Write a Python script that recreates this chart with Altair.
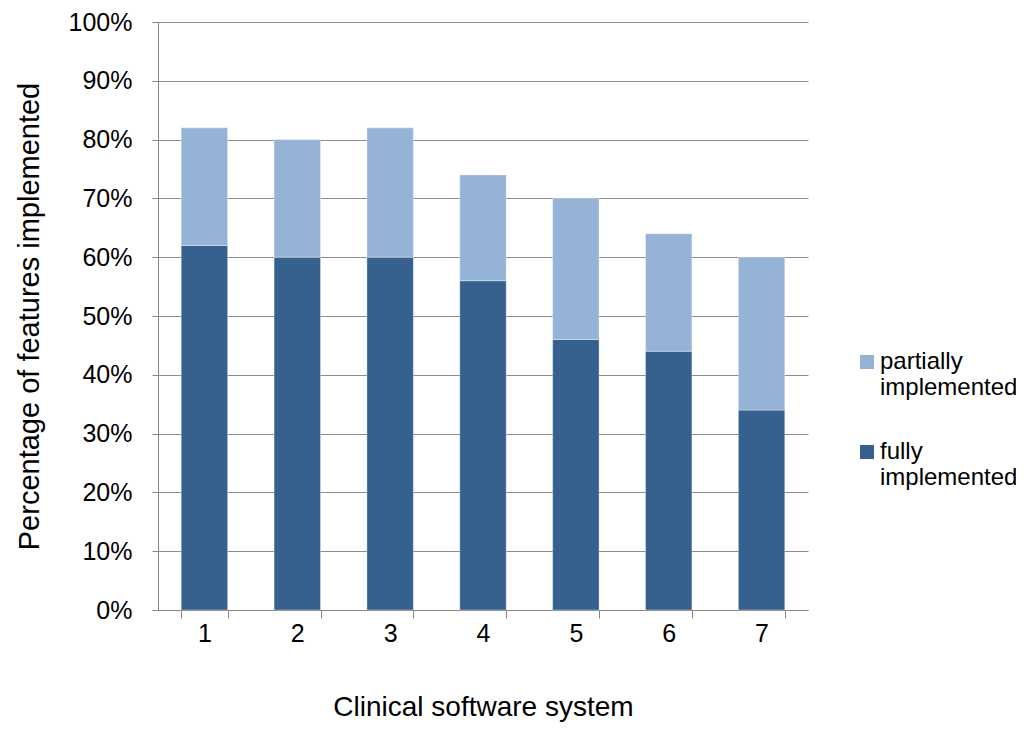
import altair as alt
import pandas as pd

systems = ["1", "2", "3", "4", "5", "6", "7"]
fully = [62, 60, 60, 56, 46, 44, 34]
partially = [20, 20, 22, 18, 24, 20, 26]

rows = []
for s, f, p in zip(systems, fully, partially):
    rows.append({"system": s, "status": "fully implemented", "value": f, "ord": 1})
    rows.append({"system": s, "status": "partially implemented", "value": p, "ord": 2})
df = pd.DataFrame(rows)

font = "Liberation Sans"

chart = alt.Chart(df).mark_bar(stroke="#ffffff", strokeOpacity=0.35, strokeWidth=1).encode(
    x=alt.X("system:N", sort=systems,
            scale=alt.Scale(paddingInner=0.5, paddingOuter=0.25),
            axis=alt.Axis(title="Clinical software system", labelAngle=0, tickBand="extent",
                          tickSize=8, labelPadding=3, titlePadding=47,
                          domainColor="#868686", tickColor="#868686",
                          labelFontSize=25, titleFontSize=28, labelColor="#000", titleColor="#000",
                          labelFont=font, titleFont=font, titleFontWeight="normal")),
    y=alt.Y("value:Q", stack="zero",
            scale=alt.Scale(domain=[0, 100]),
            axis=alt.Axis(title="Percentage of features implemented", values=list(range(0, 101, 10)),
                          labelExpr="datum.value + '%'", tickSize=6, labelPadding=20, titlePadding=24,
                          gridColor="#8c8c8c", gridWidth=1, domainColor="#868686", tickColor="#868686",
                          labelFontSize=25, titleFontSize=29, labelColor="#000", titleColor="#000",
                          labelFont=font, titleFont=font, titleFontWeight="normal")),
    color=alt.Color("status:N",
                    scale=alt.Scale(domain=["partially implemented", "fully implemented"],
                                    range=["#95B3D7", "#36618F"]),
                    legend=alt.Legend(title=None, orient="none", legendX=697, legendY=328,
                                      symbolType="square", symbolSize=196, symbolStrokeWidth=0,
                                      labelExpr="split(datum.label, ' ')",
                                      labelFontSize=24, labelFont=font, labelColor="#000",
                                      rowPadding=40, labelOffset=1, labelLimit=300)),
    order=alt.Order("ord:Q", sort="ascending"),
).properties(
    width=650, height=588,
    autosize=alt.AutoSizeParams(type="none"),
    padding={"left": 150, "top": 14, "right": 208, "bottom": 113},
).configure_view(stroke=None).configure_axis(grid=False).configure_axisY(grid=True)

chart.save("out.html", embed_options={"renderer": "svg", "actions": False})
